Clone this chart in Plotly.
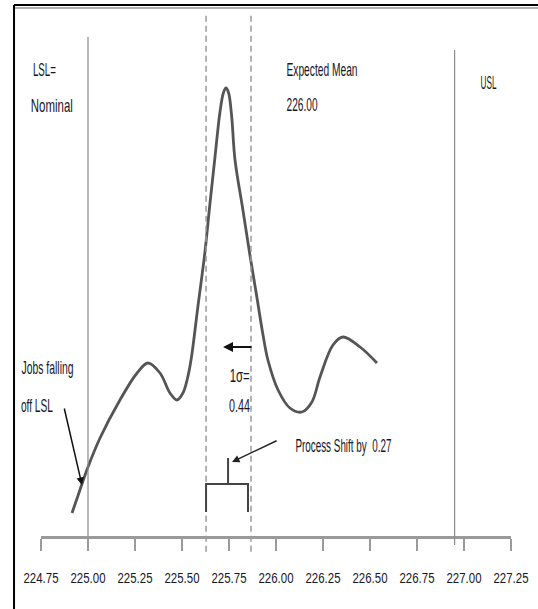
import json
import plotly.graph_objects as go

# ---- data ----
curve_x = [224.915, 224.957, 225.000, 225.064, 225.170, 225.261, 225.319, 225.383, 225.436,
           225.473, 225.505, 225.527, 225.548, 225.585, 225.622, 225.649, 225.676, 225.702,
           225.720, 225.734, 225.748, 225.764, 225.782, 225.824, 225.862, 225.899, 225.931,
           225.957, 226.011, 226.074, 226.138, 226.191, 226.234, 226.303, 226.356, 226.447,
           226.537]
curve_y = [23, 46, 69, 98, 136, 163, 173, 163, 143,
           136, 143, 156, 176, 230, 284, 333, 380, 424,
           443, 448, 443, 420, 376, 326, 280, 238, 201,
           176, 146, 128, 124, 134, 159, 191, 199, 189,
           173]

tick_vals = [224.75, 225.00, 225.25, 225.50, 225.75, 226.00, 226.25, 226.50, 226.75, 227.00, 227.25]
tick_text = ["%.2f" % v for v in tick_vals]

lsl = 225.00
usl = 226.95
band_left = 225.628
band_right = 225.867
shift_left = 225.628
shift_mid = 225.745
shift_right = 225.851

labels = ["LSL=", "Nominal", "Expected Mean", "226.00", "USL", "Jobs falling", "off LSL",
          "1σ=", "0.44", "Process Shift by\u00a0 0.27"]

FONT = "Liberation Sans, Arial, sans-serif"
TXT = "#16162a"

fig = go.Figure()
fig.add_trace(go.Scatter(x=curve_x, y=curve_y, mode="lines",
                         line=dict(color="#555555", width=2.8, shape="spline", smoothing=1.0),
                         hoverinfo="skip", showlegend=False))

shapes = []
# page border
shapes.append(dict(type="line", xref="paper", yref="paper", x0=-0.0574, x1=1.06, y0=1.0057, y1=1.0057,
                   line=dict(color="#000000", width=2)))
shapes.append(dict(type="line", xref="paper", yref="paper", x0=-0.0574, x1=1.06, y0=1.0, y1=1.0,
                   line=dict(color="#b0b0b0", width=2)))
shapes.append(dict(type="line", xref="paper", yref="paper", x0=-0.0574, x1=-0.0574, y0=1.0057, y1=-0.14,
                   line=dict(color="#000000", width=2)))
# spec limits
shapes.append(dict(type="line", xref="x", yref="paper", x0=lsl, x1=lsl, y0=0, y1=(536 - 37) / 528,
                   line=dict(color="#8a8a8a", width=1.2), layer="above"))
shapes.append(dict(type="line", xref="x", yref="paper", x0=usl, x1=usl, y0=-0.017, y1=(536 - 50) / 528,
                   line=dict(color="#8a8a8a", width=1.2), layer="above"))
# dashed band
for xv in (band_left, band_right):
    shapes.append(dict(type="line", xref="x", yref="paper", x0=xv, x1=xv, y0=-0.03, y1=(536 - 14) / 528,
                       line=dict(color="#9a9a9a", width=1.5, dash="6px,4px"), layer="above"))
# bracket
shapes.append(dict(type="path", xref="x", yref="y",
                   path=f"M {shift_left},24 L {shift_left},52 L {shift_right},52 L {shift_right},24 "
                        f"M {shift_mid},52 L {shift_mid},78",
                   line=dict(color="#444444", width=2)))
fig.update_layout(shapes=shapes)

# text label placement (paper coordinates, centre of each label) and rendered widths (px)
label_pos = [(0.0064, 0.8826), (0.0234, 0.8144), (0.5979, 0.8826), (0.5553, 0.8163), (0.9511, 0.8580),
             (0.0128, 0.3182), (-0.0085, 0.2481), (0.4213, 0.3049), (0.4234, 0.2481), (0.6426, 0.1705)]
label_w = [23, 42, 71, 31, 16, 52, 32, 20, 21, 96]
for s, (px, py) in zip(labels, label_pos):
    fig.add_annotation(x=px, y=py, xref="paper", yref="paper", text=s, showarrow=False,
                       xanchor="center", yanchor="middle", font=dict(family=FONT, size=19, color=TXT))


def arrow(hx, hy, tx, ty, w=1.5, col="#111111"):
    fig.add_annotation(x=hx, y=hy, ax=tx, ay=ty, xref="x", yref="y", axref="x", ayref="y", text="",
                       showarrow=True, arrowhead=2, arrowsize=1, arrowwidth=w, arrowcolor=col, standoff=0)


arrow(224.968, 51, 224.872, 129)
arrow(225.718, 189, 225.878, 189, w=2)
arrow(225.766, 74, 226.011, 96, w=1.5, col="#222222")

fig.update_xaxes(range=[224.75, 227.25], tickvals=tick_vals, ticktext=tick_text, showline=True,
                 linecolor="#9a9a9a", linewidth=3, ticks="outside", ticklen=12, tickcolor="#9a9a9a",
                 tickwidth=1.5, showgrid=False, zeroline=False, ticklabelstandoff=14, tickangle=0,
                 ticklabeloverflow="allow", automargin=False,
                 tickfont=dict(family=FONT, size=15, color=TXT), fixedrange=True)
fig.update_yaxes(range=[0, 528], visible=False, showgrid=False, zeroline=False, fixedrange=True,
                 automargin=False)
fig.update_layout(width=538, height=609, margin=dict(l=41, r=27, t=8, b=73, autoexpand=False),
                  plot_bgcolor="white", paper_bgcolor="white", showlegend=False)

post = """
document.body.style.margin='0';
document.body.style.overflow='hidden';
var gd=document.getElementById('{plot_id}');
var W=%s;
function fit(t, w){ t.setAttribute('textLength', w); t.setAttribute('lengthAdjust','spacingAndGlyphs'); }
gd.querySelectorAll('.xtick text').forEach(function(t){ fit(t, 35); });
gd.querySelectorAll('.annotation').forEach(function(a){
  var i=parseInt(a.getAttribute('data-index'));
  var t=a.querySelector('text');
  if(t && i < W.length && t.getComputedTextLength()>0){ fit(t, W[i]); }
});
""" % json.dumps(label_w)
fig.write_html("out.html", post_script=post, config={"displayModeBar": False})
